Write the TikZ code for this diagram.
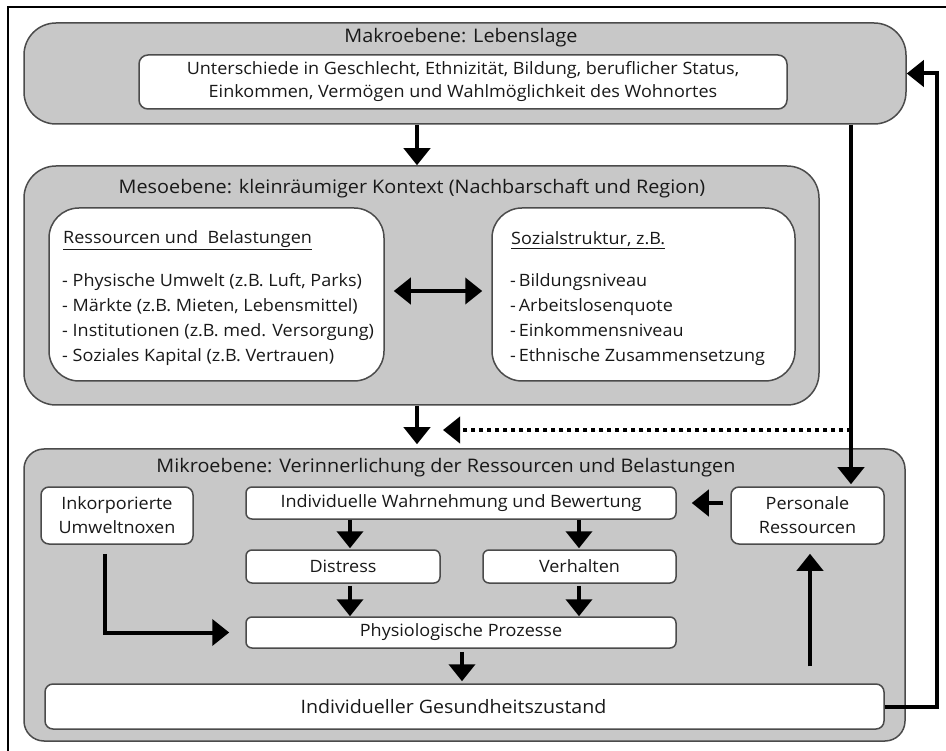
\documentclass[tikz,border=0pt]{standalone}
\usepackage{fontspec}
\setmainfont{Open Sans}[FakeStretch=1.06]
\usetikzlibrary{arrows.meta,calc}
\definecolor{boxgray}{RGB}{200,200,200}
\definecolor{edgegray}{RGB}{75,75,75}
\definecolor{txt}{RGB}{25,25,25}
\begin{document}
\begin{tikzpicture}[x=1pt,y=-1pt,
  level/.style={draw=edgegray, line width=1.5pt, fill=boxgray, rounded corners=#1, inner sep=0pt},
  wbox/.style={draw=edgegray, line width=1.5pt, fill=white, rounded corners=#1, inner sep=0pt, text=txt, align=center, font=\fontsize{17}{24}\selectfont},
  ttl/.style={text=txt, inner sep=0pt, font=\fontsize{18.7}{24}\selectfont},
  lst/.style={text=txt, inner sep=0pt, align=left, anchor=west, font=\fontsize{17}{25}\selectfont},
  arr/.style={line width=4pt, -{Triangle[width=26pt,length=17pt]}},
  darr/.style={line width=4pt, {Triangle[width=26pt,length=17pt]}-{Triangle[width=26pt,length=17pt]}},
  dotarr/.style={line width=4pt, dash pattern=on 4pt off 4pt, -{Triangle[width=26pt,length=17pt]}}
]
\useasboundingbox (0,0) rectangle (946,751);
\fill[white] (0,0) rectangle (946,751);
\draw[line width=2pt] (8,751) -- (8,7) -- (946,7);

% Makro
\node[level=32pt, minimum width=882pt, minimum height=101pt] (macro) at (465,73.5) {};
\node[ttl] (macrot) at (461,38) {Makroebene: Lebenslage};
\node[wbox=9pt, minimum width=648pt, minimum height=54pt, font=\fontsize{17}{23}\selectfont] (macrow) at (463,82)
  {Unterschiede in Geschlecht, Ethnizität, Bildung, beruflicher Status,\\Einkommen, Vermögen und Wahlmöglichkeit des Wohnortes};

% Meso
\node[level=32pt, minimum width=795pt, minimum height=239pt] (meso) at (421.5,285.5) {};
\node[ttl] (mesot) at (412,189) {Mesoebene: kleinräumiger Kontext (Nachbarschaft und Region)};
\node[wbox=30pt, minimum width=335pt, minimum height=173pt] (lw) at (216.5,294.5) {};
\node[wbox=30pt, minimum width=303pt, minimum height=173pt] (rw) at (643.5,294.5) {};
\node[lst] (lh) at (63,240) {\underline{Ressourcen und\ \ Belastungen}};
\node[lst] (ll) at (62,319.5) {- Physische Umwelt (z.B. Luft, Parks)\\- Märkte (z.B. Mieten, Lebensmittel)\\- Institutionen (z.B. med. Versorgung)\\- Soziales Kapital (z.B. Vertrauen)};
\node[lst] (rh) at (511,240) {\underline{Sozialstruktur, z.B.}};
\node[lst] (rl) at (510,319.5) {-\,Bildungsniveau\\-\,Arbeitslosenquote\\-\,Einkommensniveau\\-\,Ethnische Zusammensetzung};

% Mikro
\node[level=20pt, minimum width=881pt, minimum height=292pt] (micro) at (464.5,595) {};
\node[ttl] (microt) at (446,468) {Mikroebene: Verinnerlichung der Ressourcen und Belastungen};
\node[wbox=8pt, minimum width=152pt, minimum height=57pt] (ink) at (117,515.5) {Inkorporierte\\Umweltnoxen};
\node[wbox=6pt, minimum width=430pt, minimum height=32pt] (wahr) at (461,503) {Individuelle Wahrnehmung und Bewertung};
\node[wbox=8pt, minimum width=153pt, minimum height=57pt] (pers) at (807.5,515.5) {Personale\\Ressourcen};
\node[wbox=6pt, minimum width=194pt, minimum height=33pt] (dist) at (343,566.5) {Distress};
\node[wbox=6pt, minimum width=193pt, minimum height=33pt] (verh) at (579.5,566.5) {Verhalten};
\node[wbox=6pt, minimum width=430pt, minimum height=31pt] (phys) at (461,632.5) {Physiologische Prozesse};
\node[wbox=8pt, minimum width=839pt, minimum height=45pt, font=\fontsize{18.5}{24}\selectfont] (ges) at (464.5,706.5) {Individueller Gesundheitszustand\hspace*{22pt}};

% helper coordinates
\coordinate (cx1) at (417,0);
\coordinate (cdn) at (851,0);
\coordinate (cfb) at (937,0);
\coordinate (c1) at (350,0);
\coordinate (c2) at (579,0);
\coordinate (c3) at (462,0);
\coordinate (c4) at (810,0);
\coordinate (c5) at (105,0);
\coordinate (dotR) at (851,430);
\coordinate (dotL) at (443,430);

% connectors
\draw[arr] (cx1 |- macro.south) -- (cx1 |- meso.north);
\draw[arr] (cx1 |- meso.south) -- ($(cx1 |- micro.north)+(0,-4)$);
\draw[dotarr] (dotR) -- (dotL);
\draw[arr] (cdn |- macro.south) -- ($(cdn |- pers.north)+(0,-2)$);
\draw[arr] (ges.east) -- (cfb |- ges.east) -- (cfb |- macro.east) -- (macro.east);
\draw[darr] ($(lw.east)+(9,-3.5)$) -- ($(rw.west)+(-9,-3.5)$);
\draw[arr] ($(pers.west |- wahr.east)+(-7,0)$) -- ($(wahr.east)+(15,0)$);
\draw[arr] (c1 |- wahr.south) -- ($(c1 |- dist.north)+(0,-1)$);
\draw[arr] (c2 |- wahr.south) -- ($(c2 |- verh.north)+(0,-1)$);
\draw[arr] ($(c1 |- dist.south)+(0,2)$) -- (c1 |- phys.north);
\draw[arr] ($(c2 |- verh.south)+(0,2)$) -- (c2 |- phys.north);
\draw[arr] ($(c3 |- phys.south)+(0,3)$) -- ($(c3 |- ges.north)+(0,-2)$);
\draw[arr] ($(c4 |- ges.north)+(0,-17)$) -- ($(c4 |- pers.south)+(0,9)$);
\draw[arr] ($(c5 |- ink.south)+(0,9)$) |- ($(phys.west)+(-16,0)$);
\end{tikzpicture}
\end{document}
